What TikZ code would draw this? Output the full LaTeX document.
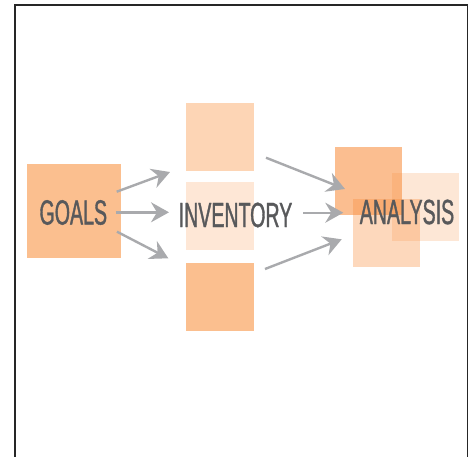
\documentclass[tikz,border=0pt]{standalone}
\usepackage{fontspec}
\setmainfont{Liberation Sans}
\newfontfamily\condfont[FakeStretch=0.56,FakeBold=1.0]{Liberation Sans}
\usetikzlibrary{arrows.meta}
\definecolor{boxA}{HTML}{FBBF8F}
\definecolor{boxB}{HTML}{FDD5B5}
\definecolor{boxC}{HTML}{FEE7D6}
\definecolor{base}{HTML}{F98A35}
\definecolor{txt}{HTML}{58595B}
\definecolor{arr}{HTML}{A9AAAD}
\tikzset{
  lbl/.style={text=txt, font=\condfont\fontsize{35}{35}\selectfont, inner sep=0pt},
  flow/.style={draw=arr, line width=2.4pt, -{Stealth[length=18pt,width=20pt,inset=6pt]}}
}
\begin{document}
\begin{tikzpicture}[x=1pt,y=-1pt]
\useasboundingbox (0,0) rectangle (472,456);
\clip (0,0) rectangle (472,456);
\fill[white] (0,0) rectangle (472,456);
\draw[line width=1.6pt, black!85] (15,470) -- (15,4.8) -- (467.5,4.8) -- (467.5,470);
% GOALS
\fill[boxA] (27,164) rectangle (120.5,257.5);
% inventory boxes
\fill[boxB] (186,102.7) rectangle (254,171);
\fill[boxC] (186,182) rectangle (254,250);
\fill[boxA] (186,262.7) rectangle (254,330.7);
% analysis boxes
\fill[base, fill opacity=0.55] (334.7,147.3) rectangle (401.7,215);
\fill[base, fill opacity=0.33] (353,199.3) rectangle (420,267.3);
\fill[base, fill opacity=0.2] (392.3,173.3) rectangle (459.3,240.7);
% labels
\node[lbl] (goals) at (73.3,212.5) {GOALS};
\node[lbl] (inv) at (235.5,215) {INVENTORY};
\node[lbl] (ana) at (407,212) {ANALYSIS};
% connector endpoints
\coordinate (g1) at (116.7,191.7); \coordinate (i1) at (170,172);
\coordinate (g2) at (115.7,212.3); \coordinate (i2) at (169,212.3);
\coordinate (g3) at (117,231.7);   \coordinate (i3) at (168.3,258.3);
\coordinate (j1) at (266,157.7);   \coordinate (a1) at (345,189);
\coordinate (j2) at (303.3,212.7); \coordinate (a2) at (343.3,212.7);
\coordinate (j3) at (265,269);     \coordinate (a3) at (341.7,239.3);
\draw[flow] (g1) -- (i1);
\draw[flow] (g2) -- (i2);
\draw[flow] (g3) -- (i3);
\draw[flow] (j1) -- (a1);
\draw[flow] (j2) -- (a2);
\draw[flow] (j3) -- (a3);
\end{tikzpicture}
\end{document}
